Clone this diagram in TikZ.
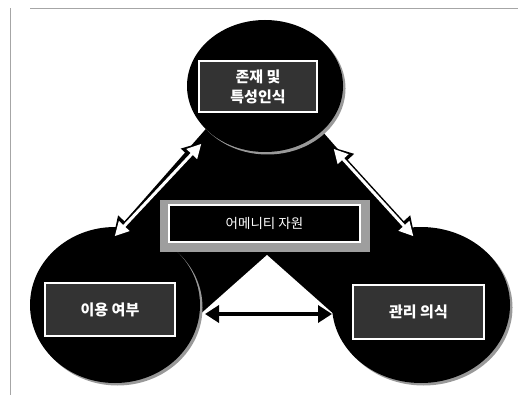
\documentclass[tikz,border=0pt]{standalone}
\usepackage{fontspec}
\newfontfamily\kor{Noto Sans CJK KR}
\usetikzlibrary{shapes.geometric,arrows.meta,shadows}

\tikzset{
  blob/.style={ellipse, fill=black, inner sep=0pt,
    drop shadow={shadow xshift=2.5pt, shadow yshift=-2.5pt, fill=black!40, opacity=1}},
  tag/.style={rectangle, draw=white, line width=1.4pt, fill=black!80, text=white,
    font=\kor\bfseries\fontsize{15}{20}\selectfont, align=center, inner sep=0pt},
  wedge/.style={draw=black, line width=6pt, {Triangle[length=20pt 0 0,width=22pt 0 0]}-{Triangle[length=20pt 0 0,width=22pt 0 0]}},
  wedgein/.style={draw=white, line width=3pt, shorten <=2.5pt, shorten >=2.5pt,
    {Triangle[length=14pt 0 0,width=14pt 0 0]}-{Triangle[length=14pt 0 0,width=14pt 0 0]}},
  link/.style={draw=black, line width=4.5pt, {Triangle[length=14pt 0 0,width=17pt 0 0]}-{Triangle[length=14pt 0 0,width=17pt 0 0]}},
}

\begin{document}
\begin{tikzpicture}[x=1pt,y=-1pt]
                \useasboundingbox (0,0) rectangle (518,395);
                \draw[black!35, line width=0.8pt] (10,395) -- (10,8) (30,8) -- (518,8);

                % background triangle with the notch below the box
                \fill[black] (263,64) -- (36,322) -- (490,322) -- cycle;
                \fill[white] (267,255) -- (178,334) -- (356,334) -- cycle;

                \node[blob, minimum width=156pt, minimum height=132pt] (jonjae) at (265,86) {};
                \node[blob, minimum width=170pt, minimum height=156pt] (iyong) at (115,305) {};
                \node[blob, minimum width=178pt, minimum height=156pt] (gwanri) at (421,305) {};

                \node[tag, minimum width=118pt, minimum height=51pt] (jonjaeT) at (258,86.5) {존재 및\\특성인식};
                \node[tag, minimum width=130pt, minimum height=53pt] (iyongT) at (110,309.5) {이용 여부};
                \node[tag, minimum width=131pt, minimum height=54pt] (gwanriT) at (418.5,312) {관리 의식};

                \coordinate (l1) at (113,238); \coordinate (l2) at (203,142);
                \coordinate (r1) at (415,238); \coordinate (r2) at (332,147);
                \coordinate (b1) at (205,314); \coordinate (b2) at (332,314);

                \draw[wedge] (l1) to (l2); \draw[wedgein] (l1) to (l2);
                \draw[wedge] (r1) to (r2); \draw[wedgein] (r1) to (r2);
                \draw[link] (b1) to (b2);

                \node[rectangle, fill=black!38, minimum width=210pt, minimum height=52pt] (amenityF) at (265,226) {};
                \node[rectangle, draw=white, line width=1.4pt, fill=black, text=white, inner sep=0pt,
                  minimum width=191pt, minimum height=37pt, font=\kor\fontsize{13.5}{16}\selectfont] (amenity) at (264.5,223.5) {어메니티 자원};
            \end{tikzpicture}
\end{document}
